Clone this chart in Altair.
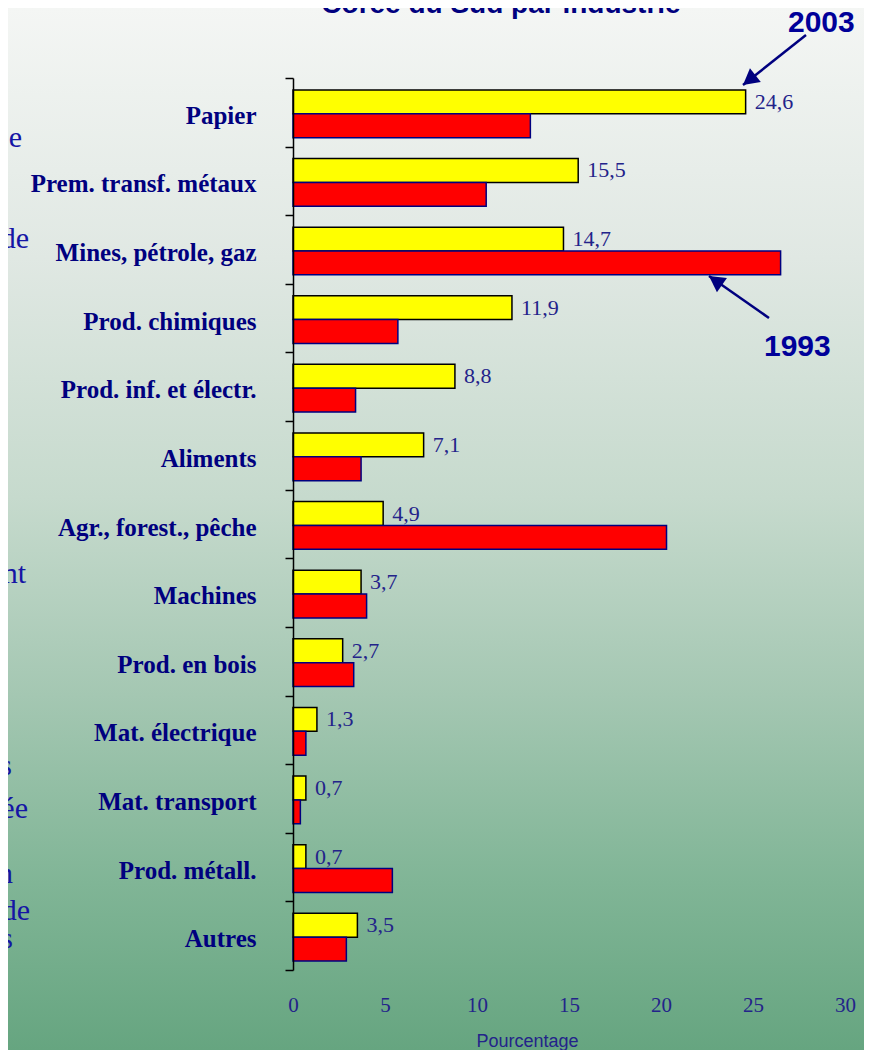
import altair as alt
import pandas as pd

categories = ["Papier", "Prem. transf. métaux", "Mines, pétrole, gaz", "Prod. chimiques",
              "Prod. inf. et électr.", "Aliments", "Agr., forest., pêche", "Machines",
              "Prod. en bois", "Mat. électrique", "Mat. transport", "Prod. métall.", "Autres"]
share_2003 = [24.6, 15.5, 14.7, 11.9, 8.8, 7.1, 4.9, 3.7, 2.7, 1.3, 0.7, 0.7, 3.5]
share_1993 = [12.9, 10.5, 26.5, 5.7, 3.4, 3.7, 20.3, 4.0, 3.3, 0.7, 0.4, 5.4, 2.9]
series = ["2003", "1993"]
x_ticks = [0, 5, 10, 15, 20, 25, 30]

rows = []
for c, a, b in zip(categories, share_2003, share_1993):
    rows.append({"cat": c, "series": "2003", "value": a})
    rows.append({"cat": c, "series": "1993", "value": b})
df = pd.DataFrame(rows)
one = pd.DataFrame({"k": [0]})

W, H = 552, 892
PAD = {"left": 285, "top": 70, "right": 19, "bottom": 80}
NAVY = "#00007f"
BLUE = "#1515a5"
VALC = "#23238a"

bg = alt.Chart(one).mark_rect(
    fill=alt.LinearGradient(
        gradient="linear", x1=0, y1=0, x2=0, y2=1,
        stops=[alt.GradientStop(offset=0, color="#f4f6f4"),
               alt.GradientStop(offset=0.24, color="#e0e8e3"),
               alt.GradientStop(offset=0.47, color="#c6dacd"),
               alt.GradientStop(offset=0.66, color="#a4c7b2"),
               alt.GradientStop(offset=0.84, color="#80b596"),
               alt.GradientStop(offset=1, color="#66a580")])
).encode(x=alt.value(-PAD["left"]), x2=alt.value(W + PAD["right"]),
         y=alt.value(-PAD["top"]), y2=alt.value(H + PAD["bottom"]))

base = alt.Chart(df)
bars = base.mark_bar(strokeWidth=1.5).encode(
    x=alt.X("value:Q", scale=alt.Scale(domain=[0, 30], nice=False, zero=True),
            axis=alt.Axis(values=x_ticks, domain=False, ticks=False, grid=False,
                          labelFont="Liberation Serif", labelFontSize=21, labelColor=VALC,
                          labelPadding=24, labelFlush=False,
                          title="Pourcentage", titleFont="Liberation Sans", titleFontSize=18,
                          titleFontWeight="normal", titleColor=VALC, titleX=234, titleY=76,
                          titleAlign="center", titleBaseline="alphabetic", zindex=1)),
    y=alt.Y("cat:N", sort=categories, scale=alt.Scale(paddingInner=0, paddingOuter=0),
            axis=alt.Axis(title=None, domainColor="black", domainWidth=1.5, tickColor="black",
                          tickSize=8, tickWidth=1.5, tickBand="extent",
                          labelFont="Liberation Serif", labelFontWeight="bold", labelFontSize=25,
                          labelColor=NAVY, labelPadding=29, labelOffset=3, labelLimit=400,
                          zindex=1)),
    yOffset=alt.YOffset("series:N", sort=series,
                        scale=alt.Scale(paddingInner=0, paddingOuter=0.4375, align=0.57)),
    fill=alt.Fill("series:N", scale=alt.Scale(domain=series, range=["#ffff00", "#ff0000"]), legend=None),
    stroke=alt.Stroke("series:N", scale=alt.Scale(domain=series, range=["#000000", "#00007f"]), legend=None),
)

labels = base.transform_filter(alt.datum.series == "2003").transform_calculate(
    label="replace(format(datum.value, '.1f'), '.', ',')"
).mark_text(align="left", baseline="middle", dx=9, font="Liberation Serif", fontSize=22,
            color=VALC).encode(
    x="value:Q",
    y=alt.Y("cat:N", sort=categories),
    yOffset=alt.YOffset("series:N", sort=series),
    text="label:N",
)


def txt(text, x, y, **kw):
    return alt.Chart(one).mark_text(text=text, **kw).encode(x=alt.value(x), y=alt.value(y))


frag_style = dict(align="right", baseline="alphabetic", font="Liberation Serif", fontSize=30, color=BLUE)
fragments = [
    txt("e", -271, 69, **frag_style),
    txt("de", -264, 170, **frag_style),
    txt("nt", -267, 505, **frag_style),
    txt("s", -281, 697, **frag_style),
    txt("ée", -265, 740, **frag_style),
    txt("n", -280, 805, **frag_style),
    txt("de", -263, 842, **frag_style),
    txt("s", -280, 870, **frag_style),
]

title = txt("Corée du Sud par industrie", 208, -65, align="center", baseline="alphabetic",
            font="Liberation Sans", fontSize=28, fontWeight="bold", color=NAVY)

ann_style = dict(align="left", baseline="alphabetic", font="Liberation Sans", fontSize=30,
                 fontWeight="bold", color="#000099")
t2003 = txt("2003", 495, -46, **ann_style)
t1993 = txt("1993", 471, 278, **ann_style)

HEAD = "M0,0 L-0.55,1 L0.55,1 Z"


def arrow(x1, y1, x2, y2, ang):
    line = alt.Chart(one).mark_rule(color=NAVY, strokeWidth=2.5).encode(
        x=alt.value(x1), y=alt.value(y1), x2=alt.value(x2), y2=alt.value(y2))
    head = alt.Chart(one).mark_point(shape=HEAD, filled=True, size=1000, angle=ang,
                                     color=NAVY, opacity=1, strokeWidth=0).encode(
        x=alt.value(x2), y=alt.value(y2))
    return [line, head]


arrows = arrow(513, -43, 450, 7, 231.5) + arrow(476, 240, 416, 198, 305)

chart = alt.layer(bg, bars, labels, *fragments, title, t2003, t1993, *arrows).properties(
    width=W, height=H, padding=PAD, autosize=alt.AutoSizeParams(type="none"),
    background="#f4f6f4",
).configure_view(stroke=None)

chart.save("out.html", embed_options={"renderer": "svg", "actions": False})
